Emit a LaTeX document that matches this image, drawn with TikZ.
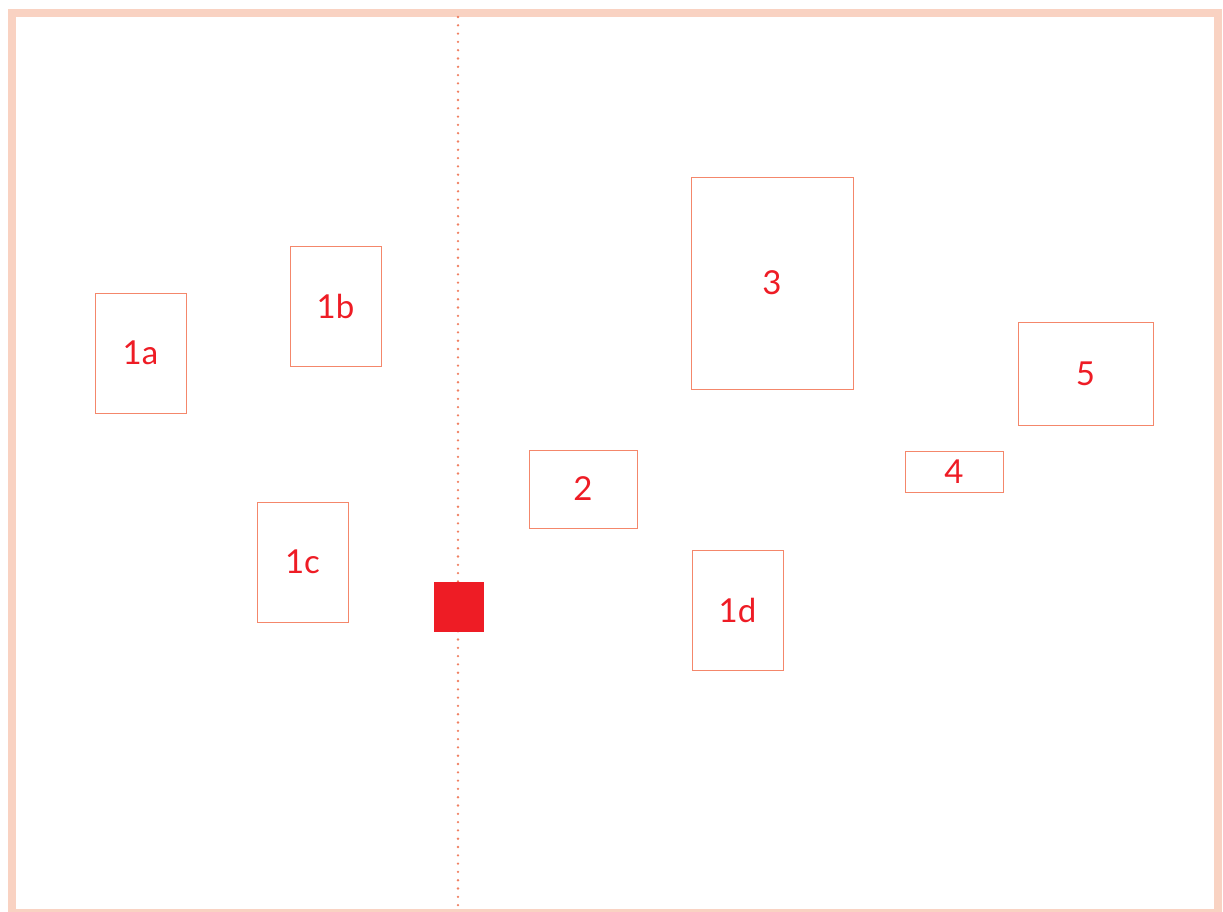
\documentclass[tikz,border=0pt]{standalone}
\usepackage{fontspec}
\setmainfont{Lato}
\definecolor{frame}{HTML}{F9D2C2}
\definecolor{boxline}{HTML}{F4876B}
\definecolor{lbl}{HTML}{EE1C25}
\definecolor{dots}{HTML}{F08062}
\tikzset{
  region/.style={draw=boxline, line width=1pt, text=lbl, font=\fontsize{33}{36}\selectfont, inner sep=0pt, text depth=-2pt},
}
\begin{document}
\begin{tikzpicture}[x=1pt,y=-1pt]
\useasboundingbox (0,0) rectangle (1223,911);
\draw[frame, line width=8pt] (12,13) rectangle (1218,913);
\coordinate (top) at (458,17);
\coordinate (bot) at (458,908);
\draw[dots, line width=2.6pt, line cap=round, dash pattern=on 0pt off 8.3pt] (top) -- (bot);
\node[fill=lbl, minimum size=50pt, inner sep=0pt] (sq) at (459,607) {};
\node[region, minimum width=91pt, minimum height=120pt] (n1a) at (140.5,353) {1a};
\node[region, minimum width=91pt, minimum height=120pt] (n1b) at (335.5,306) {1b};
\node[region, minimum width=91pt, minimum height=120pt] (n1c) at (302.5,562) {1c};
\node[region, minimum width=91pt, minimum height=120pt] (n1d) at (737.5,610) {1d};
\node[region, minimum width=108pt, minimum height=78pt] (n2) at (583,489) {2};
\node[region, minimum width=162pt, minimum height=212pt] (n3) at (772,283) {3};
\node[region, minimum width=98pt, minimum height=41pt] (n4) at (954,471.5) {4};
\node[region, minimum width=135pt, minimum height=103pt] (n5) at (1085.5,373.5) {5};
\end{tikzpicture}
\end{document}
